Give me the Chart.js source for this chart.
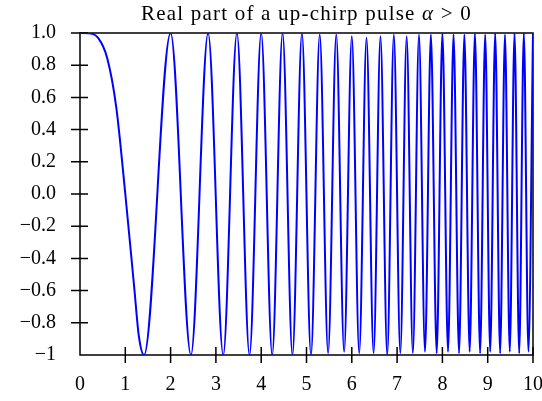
<!DOCTYPE html>
<html>
<head>
<meta charset="utf-8">
<script src="https://cdn.jsdelivr.net/npm/chart.js@4/dist/chart.umd.min.js"></script>
<style>
  html, body { margin: 0; padding: 0; background: #ffffff; }
  canvas { display: block; }
</style>
</head>
<body>
<canvas id="chirp" width="542" height="401"></canvas>
<script>
// Title pieces: plain text, then the math part (alpha is set in italics)
const titlePlain = 'Real part of a up-chirp pulse ';
const titleSymbol = 'α';
const titleTail = ' > 0';

// Axis ticks
const xTickValues = [0, 1, 2, 3, 4, 5, 6, 7, 8, 9, 10];
const xTickLabels = ['0', '1', '2', '3', '4', '5', '6', '7', '8', '9', '10'];
const yTickValues = [-1, -0.8, -0.6, -0.4, -0.2, 0, 0.2, 0.4, 0.6, 0.8, 1];
const yTickLabels = ['−1', '−0.8', '−0.6', '−0.4', '−0.2', '0.0', '0.2', '0.4', '0.6', '0.8', '1.0'];

// Time samples: several on the first slow swing, then every crest and trough
const timeValues = [
  0, 0.2, 0.4, 0.6, 0.8, 1.0, 1.2, 1.3,
  1.414, 2.000, 2.449, 2.828, 3.162, 3.464, 3.742, 4.000, 4.243, 4.472,
  4.690, 4.899, 5.099, 5.292, 5.477, 5.657, 5.831, 6.000, 6.164, 6.325,
  6.481, 6.633, 6.782, 6.928, 7.071, 7.211, 7.348, 7.483, 7.616, 7.746,
  7.874, 8.000, 8.124, 8.246, 8.367, 8.485, 8.602, 8.718, 8.832, 8.944,
  9.055, 9.165, 9.274, 9.381, 9.487, 9.592, 9.695, 9.798, 9.899, 10.000
];

// Real part of the pulse at those times
const realValues = [
  1, 0.998, 0.97, 0.845, 0.54, 0.0, -0.59, -0.885,
  -1, 1, -1, 1, -1, 1, -1, 1, -1, 1,
  -1, 1, -1, 0.99, -0.99, 0.99, -0.98, 0.98, -0.99, 0.97,
  -0.99, 0.98, -1, 0.99, -0.99, 0.98, -0.99, 0.99, -0.98, 0.99,
  -0.99, 1, -0.98, 0.99, -0.99, 0.99, -0.98, 1, -0.99, 0.99,
  -0.98, 1, -0.99, 0.99, -0.98, 1, -0.99, 1, -0.98, 1
];

const points = timeValues.map((t, i) => ({ x: t, y: realValues[i] }));

const serif = "'Liberation Serif', 'Times New Roman', serif";
const ink = '#000000';

// Box frame plus tick marks that cross the left and bottom axes
const framePlugin = {
  id: 'frameAndTicks',
  beforeDatasetsDraw(chart) {
    const { ctx, chartArea: a, scales } = chart;
    ctx.save();
    ctx.strokeStyle = ink;
    ctx.lineWidth = 1.5;
    ctx.strokeRect(a.left, a.top, a.right - a.left, a.bottom - a.top);
    ctx.beginPath();
    scales.y.ticks.forEach((tk, i) => {
      if (i === 0) return;
      const py = scales.y.getPixelForValue(tk.value);
      ctx.moveTo(a.left - 9, py);
      ctx.lineTo(a.left + 8, py);
    });
    scales.x.ticks.forEach((tk, i) => {
      if (i === 0) return;
      const px = scales.x.getPixelForValue(tk.value);
      ctx.moveTo(px, a.bottom - 8);
      ctx.lineTo(px, a.bottom + 8);
    });
    ctx.stroke();
    ctx.restore();
  },
  afterDraw(chart) {
    const { ctx, chartArea: a } = chart;
    ctx.save();
    ctx.fillStyle = ink;
    ctx.textBaseline = 'alphabetic';
    ctx.textAlign = 'left';
    if ('letterSpacing' in ctx) ctx.letterSpacing = '1.2px';
    const plainFont = '21px ' + serif;
    const italicFont = 'italic 21px ' + serif;
    ctx.font = plainFont;
    const w1 = ctx.measureText(titlePlain).width;
    const w3 = ctx.measureText(titleTail).width;
    ctx.font = italicFont;
    const w2 = ctx.measureText(titleSymbol).width;
    const total = w1 + w2 + w3;
    let x = (a.left + a.right) / 2 - total / 2;
    const y = 20;
    ctx.font = plainFont;
    ctx.fillText(titlePlain, x, y);
    x += w1;
    ctx.font = italicFont;
    ctx.fillText(titleSymbol, x, y);
    x += w2;
    ctx.font = plainFont;
    ctx.fillText(titleTail, x, y);
    ctx.restore();
  }
};

new Chart(document.getElementById('chirp'), {
  type: 'line',
  data: {
    datasets: [{
      data: points,
      borderColor: '#0000ff',
      borderWidth: 2,
      pointRadius: 0,
      fill: false,
      cubicInterpolationMode: 'monotone'
    }]
  },
  options: {
    responsive: false,
    devicePixelRatio: 1,
    animation: false,
    layout: { padding: { top: 33, right: 9, left: 0, bottom: 0 } },
    plugins: {
      legend: { display: false },
      title: { display: false },
      tooltip: { enabled: false }
    },
    scales: {
      x: {
        type: 'linear',
        min: 0,
        max: 10,
        afterBuildTicks(scale) {
          scale.ticks = xTickValues.map(v => ({ value: v }));
        },
        afterFit(scale) {
          scale.height = 46;
          scale.paddingLeft = 0;
          scale.paddingRight = 0;
        },
        grid: { display: false, drawTicks: false },
        border: { display: false },
        ticks: {
          autoSkip: false,
          maxRotation: 0,
          padding: 18,
          color: ink,
          font: { family: serif, size: 20 },
          callback: (v, i) => xTickLabels[i]
        }
      },
      y: {
        type: 'linear',
        min: -1,
        max: 1,
        afterBuildTicks(scale) {
          scale.ticks = yTickValues.map(v => ({ value: v }));
        },
        afterFit(scale) {
          scale.width = 80;
          scale.paddingTop = 0;
          scale.paddingBottom = 0;
        },
        grid: { display: false, drawTicks: false },
        border: { display: false },
        ticks: {
          autoSkip: false,
          padding: 24,
          color: ink,
          font: { family: serif, size: 20 },
          callback: (v, i) => yTickLabels[i]
        }
      }
    }
  },
  plugins: [framePlugin]
});
</script>
</body>
</html>
